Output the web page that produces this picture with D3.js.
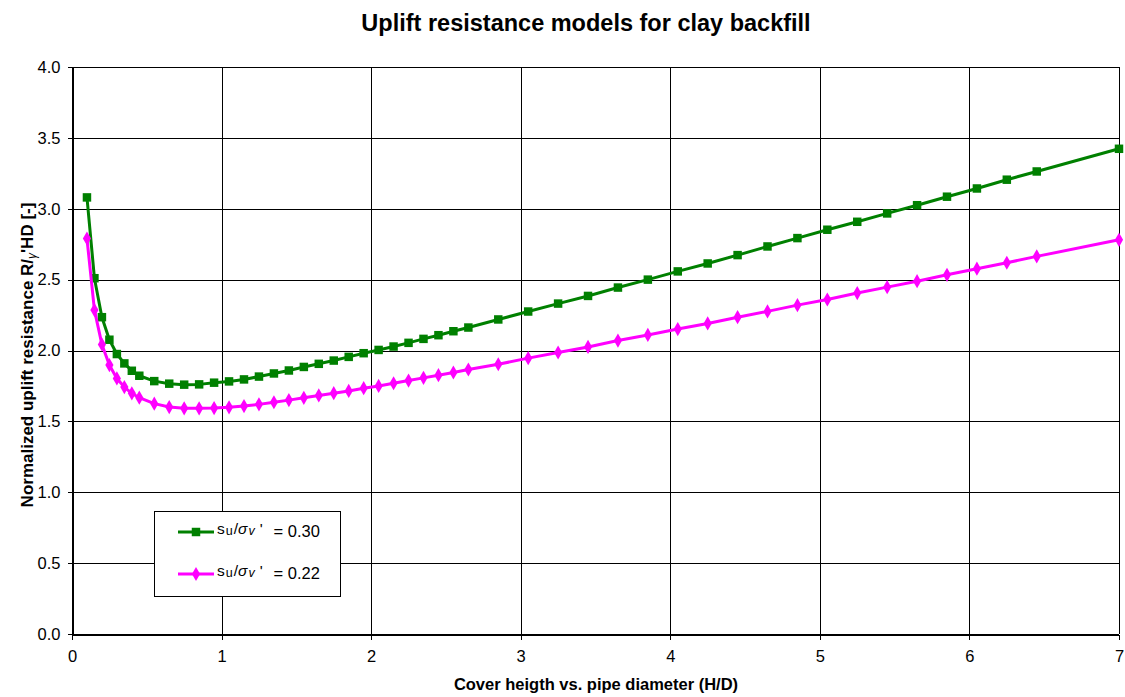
<!DOCTYPE html>
<html>
<head>
<meta charset="utf-8">
<script src="https://cdn.jsdelivr.net/npm/d3@7"></script>
<style>
  html, body { margin: 0; padding: 0; background: #fff; }
  svg { display: block; font-family: "Liberation Sans", Arial, sans-serif; }
</style>
</head>
<body>
<svg id="chart" width="1125" height="697"></svg>
<script>
// Cover height ratio H/D
const hdValues = [0.10, 0.15, 0.20, 0.25, 0.30, 0.35, 0.40, 0.45, 0.55, 0.65, 0.75, 0.85, 0.95,
  1.05, 1.15, 1.25, 1.35, 1.45, 1.55, 1.65, 1.75, 1.85, 1.95, 2.05, 2.15, 2.25, 2.35, 2.45, 2.55, 2.65,
  2.85, 3.05, 3.25, 3.45, 3.65, 3.85, 4.05, 4.25, 4.45, 4.65, 4.85, 5.05, 5.25, 5.45, 5.65, 5.85,
  6.05, 6.25, 6.45, 7.00];

// Normalized uplift resistance, su/σv' = 0.30
const resistance030 = [3.08, 2.51, 2.235, 2.076, 1.975, 1.909, 1.857, 1.822, 1.784, 1.766, 1.759, 1.761, 1.773,
  1.782, 1.796, 1.816, 1.838, 1.859, 1.884, 1.906, 1.929, 1.955, 1.981, 2.004, 2.028, 2.054, 2.082, 2.108, 2.136, 2.162,
  2.219, 2.275, 2.331, 2.385, 2.444, 2.500, 2.558, 2.614, 2.673, 2.734, 2.793, 2.852, 2.908, 2.967, 3.025, 3.085,
  3.143, 3.205, 3.263, 3.423];

// Normalized uplift resistance, su/σv' = 0.22
const resistance022 = [2.79, 2.285, 2.043, 1.897, 1.803, 1.742, 1.698, 1.667, 1.625, 1.601, 1.592, 1.592, 1.594,
  1.599, 1.608, 1.620, 1.635, 1.650, 1.666, 1.683, 1.699, 1.715, 1.734, 1.750, 1.769, 1.788, 1.807, 1.826, 1.845, 1.866,
  1.903, 1.946, 1.986, 2.025, 2.070, 2.110, 2.151, 2.191, 2.235, 2.276, 2.320, 2.360, 2.405, 2.447, 2.489, 2.534,
  2.577, 2.619, 2.664, 2.781];

const xTicks = [0, 1, 2, 3, 4, 5, 6, 7];
const yTicks = [0, 0.5, 1.0, 1.5, 2.0, 2.5, 3.0, 3.5, 4.0];

const svg = d3.select("#chart");
const plot = { left: 72, right: 1119, top: 67, bottom: 634 };

const x = d3.scaleLinear().domain([0, 7]).range([plot.left, plot.right]);
const y = d3.scaleLinear().domain([0, 4]).range([plot.bottom, plot.top]);

// Title
svg.append("text")
  .attr("x", 586).attr("y", 31)
  .attr("text-anchor", "middle")
  .attr("font-size", 23.5).attr("font-weight", "bold")
  .text("Uplift resistance models for clay backfill");

// Grid
const grid = svg.append("g").attr("stroke", "#000").attr("stroke-width", 1).attr("shape-rendering", "crispEdges");
grid.selectAll("line.h").data(yTicks).join("line")
  .attr("x1", plot.left).attr("x2", plot.right)
  .attr("y1", d => Math.round(y(d)) + 0.5).attr("y2", d => Math.round(y(d)) + 0.5);
grid.selectAll("line.v").data(xTicks).join("line")
  .attr("y1", plot.top).attr("y2", plot.bottom)
  .attr("x1", d => Math.round(x(d)) + 0.5).attr("x2", d => Math.round(x(d)) + 0.5);

// Axes
const xAxis = svg.append("g")
  .attr("transform", `translate(0,${Math.round(plot.bottom) + 0.5})`)
  .call(d3.axisBottom(x).tickValues(xTicks).tickFormat(d3.format("d")).tickSize(5).tickSizeOuter(0).tickPadding(11));
const yAxis = svg.append("g")
  .attr("transform", `translate(${Math.round(plot.left) + 0.5},0)`)
  .call(d3.axisLeft(y).tickValues(yTicks).tickFormat(d3.format(".1f")).tickSize(5).tickSizeOuter(0).tickPadding(7));
[xAxis, yAxis].forEach(g => {
  g.selectAll("path, line").attr("stroke", "#000").attr("shape-rendering", "crispEdges");
  g.selectAll("text").attr("font-size", 16.5).attr("fill", "#000")
    .attr("font-family", "'Liberation Sans', Arial, sans-serif");
});

// Axis titles
svg.append("text")
  .attr("x", 596).attr("y", 690)
  .attr("text-anchor", "middle")
  .attr("font-size", 16.5).attr("font-weight", "bold")
  .text("Cover heigth vs. pipe diameter (H/D)");

const yTitle = svg.append("text")
  .attr("transform", `translate(33,355) rotate(-90)`)
  .attr("text-anchor", "middle")
  .attr("font-size", 17).attr("font-weight", "bold");
yTitle.append("tspan").text("Normalized uplift resistance R/");
yTitle.append("tspan").attr("font-size", 12).attr("dy", 3).attr("font-style", "italic").attr("font-weight", "normal").text("γ");
yTitle.append("tspan").attr("dy", -3).text("'HD [-]");

// Series
const series = [
  { values: resistance030, color: "#008000", marker: d3.symbolSquare, size: 72, label: "0.30" },
  { values: resistance022, color: "#FF00FF", marker: d3.symbolDiamond, size: 58, label: "0.22" }
];

const line = d3.line().x(d => x(d[0])).y(d => y(d[1]));

series.forEach(s => {
  const pts = hdValues.map((h, i) => [h, s.values[i]]);
  svg.append("path")
    .datum(pts)
    .attr("fill", "none")
    .attr("stroke", s.color)
    .attr("stroke-width", 3)
    .attr("stroke-linejoin", "round")
    .attr("d", line);
  svg.append("g").selectAll("path").data(pts).join("path")
    .attr("transform", d => `translate(${x(d[0])},${y(d[1])})`)
    .attr("d", d3.symbol().type(s.marker).size(s.size))
    .attr("fill", s.color);
});

// Legend
const legend = svg.append("g");
legend.append("rect")
  .attr("x", 154.5).attr("y", 511.5).attr("width", 186).attr("height", 85)
  .attr("fill", "#fff").attr("stroke", "#000").attr("stroke-width", 1);

series.forEach((s, i) => {
  const ly = 532 + i * 42;
  legend.append("line")
    .attr("x1", 178).attr("x2", 214).attr("y1", ly).attr("y2", ly)
    .attr("stroke", s.color).attr("stroke-width", 3);
  legend.append("path")
    .attr("transform", `translate(196,${ly})`)
    .attr("d", d3.symbol().type(s.marker).size(s.size))
    .attr("fill", s.color);
  const t = legend.append("text")
    .attr("x", 217).attr("y", ly + 5)
    .attr("font-size", 16.5).attr("fill", "#000");
  t.append("tspan").attr("font-size", 15.5).attr("dy", -3).text("s");
  t.append("tspan").attr("font-size", 12.5).attr("dy", 1).attr("dx", 1).text("u");
  t.append("tspan").attr("font-size", 15.5).attr("dy", -1).attr("dx", 1).text("/");
  t.append("tspan").attr("font-size", 15.5).attr("font-style", "italic").text("σ");
  t.append("tspan").attr("font-size", 12.5).attr("font-style", "italic").attr("dy", 1).attr("dx", 1).text("v");
  t.append("tspan").attr("font-size", 15.5).attr("dy", -1).attr("dx", 5).text("'");
  t.append("tspan").attr("dy", 3).attr("dx", 11).text(`= ${s.label}`);
});
</script>
</body>
</html>
